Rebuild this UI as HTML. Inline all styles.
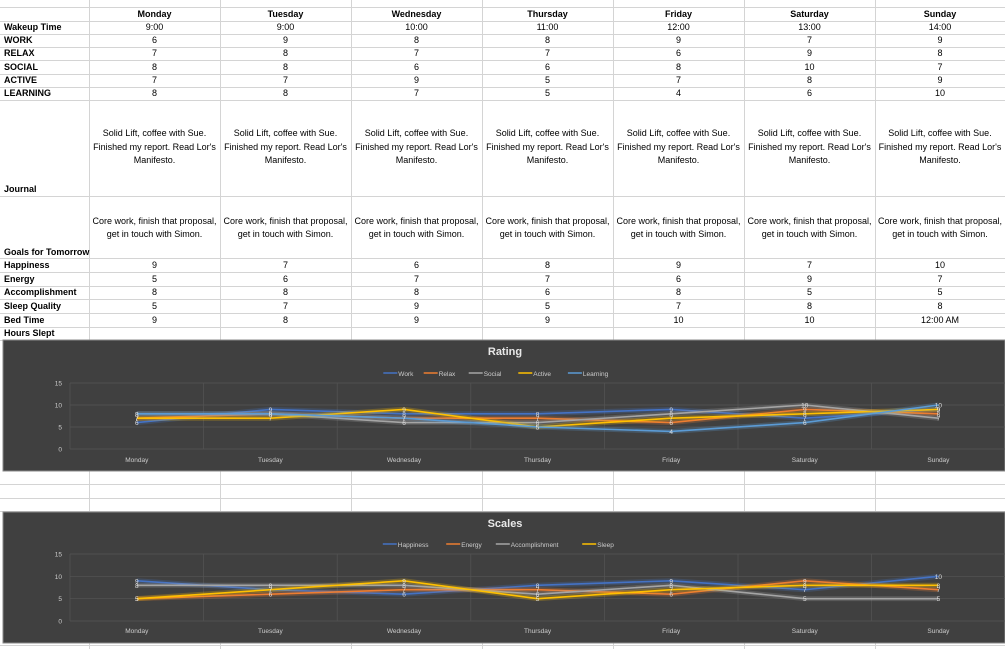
<!DOCTYPE html>
<html><head><meta charset="utf-8">
<style>
body{margin:0;width:1005px;height:649px;overflow:hidden;background:#fff;font-family:"Liberation Sans",Arial,sans-serif;position:relative}
svg{position:absolute;left:0;top:0}
</style></head><body>
<svg id="s" width="1005" height="649" xmlns="http://www.w3.org/2000/svg" font-family="Liberation Sans, Arial, sans-serif"></svg>
<script>
const s=document.getElementById('s');let h='';
const colX=[0,89,220,351,482,613,744,875,1005];
const rowsY=[0,7,21,34,47,60,74,87,100,196,258,272,286,299,313,327,340];
// grid lines
h+='<g stroke="#d4d4d4" stroke-width="1">';
for(const x of colX.slice(1,-1))h+=`<line x1="${x+.5}" y1="0" x2="${x+.5}" y2="649"/>`;
for(const y of rowsY.slice(1))h+=`<line x1="0" y1="${y+.5}" x2="1005" y2="${y+.5}"/>`;
for(const y of [484,498,511,645])h+=`<line x1="0" y1="${y+.5}" x2="1005" y2="${y+.5}"/>`;
h+='</g>';
const days=['Monday','Tuesday','Wednesday','Thursday','Friday','Saturday','Sunday'];
function cx(i){return (colX[i+1]+colX[i+2])/2}
let t='';
days.forEach((d,i)=>t+=`<text x="${cx(i)}" y="17" text-anchor="middle" font-weight="bold">${d}</text>`);
const rows=[['Wakeup Time',['9:00','9:00','10:00','11:00','12:00','13:00','14:00'],30],
['WORK',[6,9,8,8,9,7,9],43],['RELAX',[7,8,7,7,6,9,8],56],['SOCIAL',[8,8,6,6,8,10,7],70],
['ACTIVE',[7,7,9,5,7,8,9],83],['LEARNING',[8,8,7,5,4,6,10],96],
['Happiness',[9,7,6,8,9,7,10],268],['Energy',[5,6,7,7,6,9,7],282],['Accomplishment',[8,8,8,6,8,5,5],295],
['Sleep Quality',[5,7,9,5,7,8,8],309],['Bed Time',[9,8,9,9,10,10,'12:00 AM'],323],['Hours Slept',[],336]];
for(const [l,v,y] of rows){t+=`<text x="4" y="${y}" font-weight="bold">${l}</text>`;v.forEach((a,i)=>t+=`<text x="${cx(i)}" y="${y}" text-anchor="middle">${a}</text>`);}
t+=`<text x="4" y="192" font-weight="bold">Journal</text><text x="4" y="255" font-weight="bold">Goals for Tomorrow</text>`;
days.forEach((d,i)=>{const x=cx(i);
t+=`<text x="${x}" y="136" text-anchor="middle">Solid Lift, coffee with Sue.</text><text x="${x}" y="150" text-anchor="middle">Finished my report. Read Lor's</text><text x="${x}" y="163" text-anchor="middle">Manifesto.</text>`;
t+=`<text x="${x}" y="224" text-anchor="middle">Core work, finish that proposal,</text><text x="${x}" y="237" text-anchor="middle">get in touch with Simon.</text>`;});
h+=`<g font-size="9" fill="#000">${t}</g>`;
function chart(top,bot,title,titleY,legY,y15,y0,labY,series){
 let c=`<rect x="3" y="${top}" width="1002" height="${bot-top}" fill="#404040" stroke="#8a8a8a"/>`;
 c+=`<text x="505" y="${titleY}" text-anchor="middle" fill="#e8e8e8" font-size="11" font-weight="bold">${title}</text>`;
 // legend
 let tw=0;const items=series.map(s=>{const w=s[0].length*4.6+22;tw+=w;return w});
 let lx=505-tw/2;
 series.forEach((s,k)=>{c+=`<line x1="${lx}" y1="${legY-3}" x2="${lx+14}" y2="${legY-3}" stroke="${s[2]}" stroke-width="1.5"/><text x="${lx+15}" y="${legY}" fill="#ccc" font-size="6.5">${s[0]}</text>`;lx+=items[k];});
 const sc=(y15-y0)/15;
 for(let v=0;v<=15;v+=5){const y=y0+v*sc;c+=`<line x1="70" y1="${y}" x2="1005" y2="${y}" stroke="#555" stroke-width="0.7"/><text x="62" y="${y+2.5}" text-anchor="end" fill="#ccc" font-size="6.5">${v}</text>`;}
 for(let i=0;i<7;i++){const x=70+i*133.6;c+=`<line x1="${x}" y1="${y15}" x2="${x}" y2="${y0}" stroke="#555" stroke-width="0.7"/>`;}
 days.forEach((d,i)=>c+=`<text x="${136.8+i*133.6}" y="${labY}" text-anchor="middle" fill="#ccc" font-size="6.5">${d}</text>`);
 series.forEach(s=>{const pts=s[1].map((v,i)=>`${136.8+i*133.6},${y0+v*sc}`).join(' ');
  c+=`<polyline points="${pts}" fill="none" stroke="${s[2]}" stroke-width="5" stroke-opacity="0.25"/><polyline points="${pts}" fill="none" stroke="${s[2]}" stroke-width="1.6"/>`;});
 series.forEach(s=>s[1].forEach((v,i)=>c+=`<text x="${136.8+i*133.6}" y="${y0+v*sc+2.5}" text-anchor="middle" fill="#ddd" font-size="6.5">${v}</text>`));
 return c;}
h+=chart(340,471,'Rating',355,376,383,449,462,[['Work',[6,9,8,8,9,7,9],'#4472C4'],['Relax',[7,8,7,7,6,9,8],'#ED7D31'],['Social',[8,8,6,6,8,10,7],'#A5A5A5'],['Active',[7,7,9,5,7,8,9],'#FFC000'],['Learning',[8,8,7,5,4,6,10],'#5B9BD5']]);
h+=chart(512,643,'Scales',527,547,554,621,633,[['Happiness',[9,7,6,8,9,7,10],'#4472C4'],['Energy',[5,6,7,7,6,9,7],'#ED7D31'],['Accomplishment',[8,8,8,6,8,5,5],'#A5A5A5'],['Sleep',[5,7,9,5,7,8,8],'#FFC000']]);
s.innerHTML=h;
</script>
</body></html>
